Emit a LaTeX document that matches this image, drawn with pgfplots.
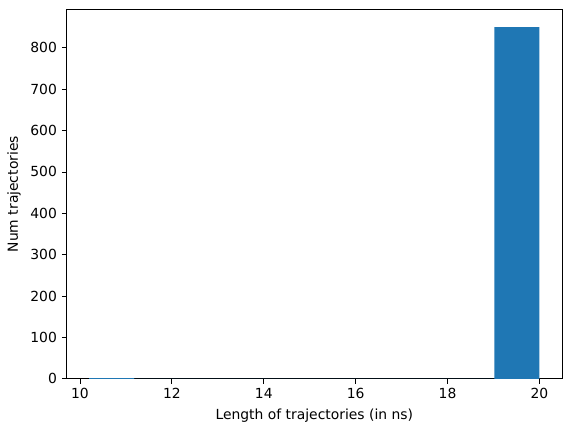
\documentclass[border=0pt]{standalone}
\usepackage{fontspec}
\setmainfont{DejaVu Sans}
\usepackage{pgfplots}
\pgfplotsset{compat=1.18}
\definecolor{mplblue}{HTML}{1F77B4}
\begin{document}
\begin{tikzpicture}
\begin{axis}[
  name=ax,
  scale only axis,
  width=356.6pt, height=266pt,
  xmin=9.71, xmax=20.49,
  ymin=0, ymax=892.5,
  xtick={10,12,14,16,18,20},
  ytick={0,100,200,300,400,500,600,700,800},
  tick align=outside,
  major tick length=3.5pt,
  xtick pos=bottom, ytick pos=left,
  /pgf/number format/assume math mode=true,
  ticklabel style={font=\fontsize{10}{12}\selectfont},
  label style={font=\fontsize{10}{12}\selectfont},
  xlabel={Length of trajectories (in ns)},
  ylabel={Num trajectories},
  axis line style={line width=0.6pt},
  every tick/.style={line width=0.6pt, black},
]
\addplot[ybar interval, fill=mplblue, draw=none] coordinates {
(10.20,2) (11.18,0) (12.16,0) (13.14,0) (14.12,0) (15.10,0) (16.08,0) (17.06,0) (18.04,0) (19.02,850) (20.00,850)
};
\end{axis}
\useasboundingbox ([xshift=-48pt,yshift=-38.2pt]ax.south west) rectangle ([xshift=6.5pt,yshift=6.8pt]ax.north east);
\end{tikzpicture}
\end{document}
